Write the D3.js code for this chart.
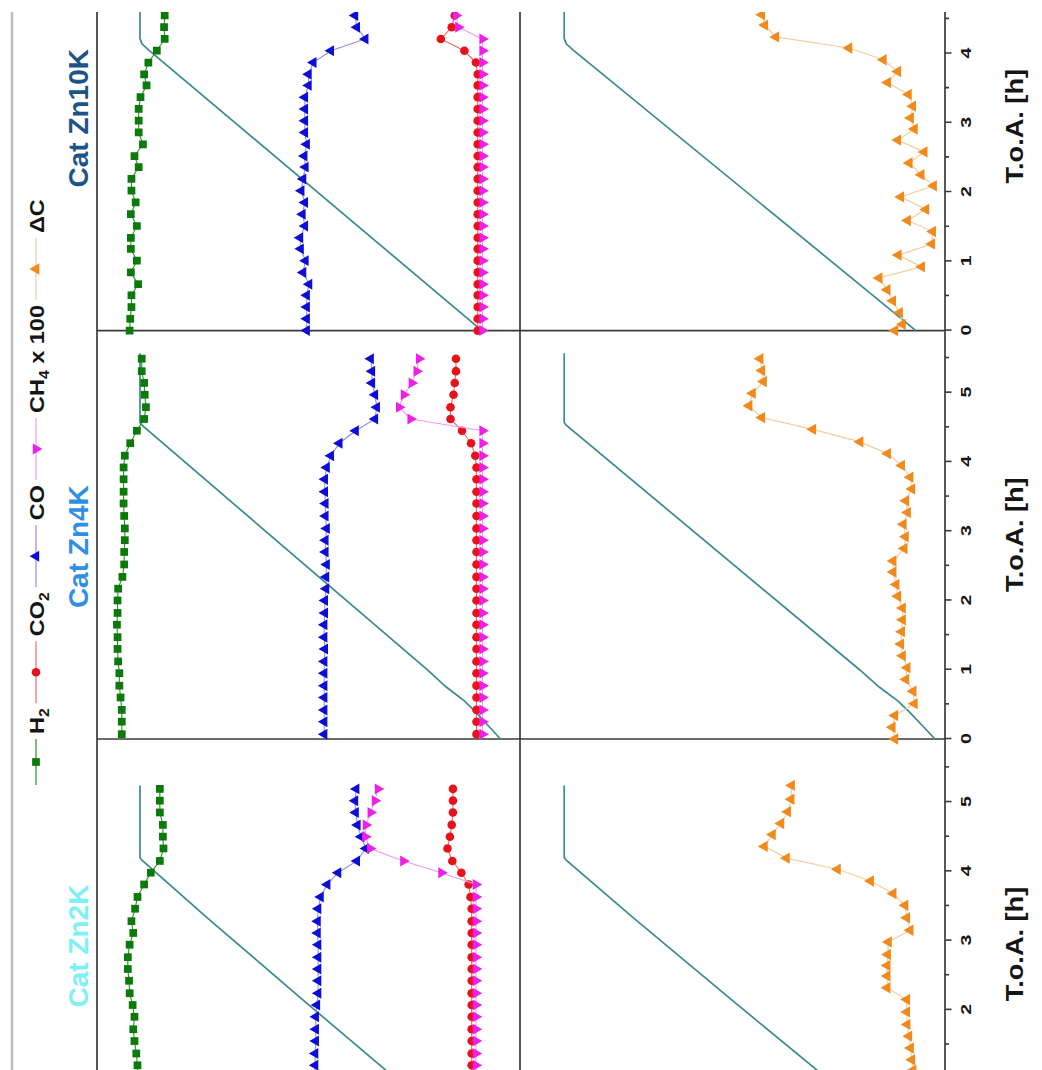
<!DOCTYPE html>
<html>
<head>
<meta charset="utf-8">
<title>Product gas and carbon balance during activation – Cat Zn2K / Zn4K / Zn10K</title>
<script src="https://cdn.jsdelivr.net/npm/d3@7/dist/d3.min.js"></script>
<style>
  html, body { margin: 0; padding: 0; background: #ffffff; }
  svg { display: block; font-family: "Liberation Sans", Arial, Helvetica, sans-serif; }
</style>
</head>
<body>
<svg id="chart" width="1042" height="1070"></svg>
<script>
// ------------------------------------------------------------------
// Data: time on stream T.o.A. [h], gas fractions [vol.%] (CH4 x 100),
// carbon balance deficit ΔC and the oven temperature program [°C].
// ------------------------------------------------------------------
const catalysts = ["Cat Zn2K", "Cat Zn4K", "Cat Zn10K"];
const hourTicks = [0, 1, 2, 3, 4, 5];
const halfHourTicks = [0.5, 1.5, 2.5, 3.5, 4.5, 5.5];

// Cat Zn2K
const timeZn2K = [1.03, 1.20, 1.37, 1.55, 1.72, 1.90, 2.07, 2.24, 2.42, 2.59, 2.76, 2.94, 3.11,
                  3.28, 3.46, 3.63, 3.81, 3.98, 4.15, 4.33, 4.50, 4.67, 4.85, 5.02, 5.19];
const h2Zn2K  = [63.2, 63.3, 63.5, 63.8, 64.0, 63.8, 64.1, 64.6, 64.7, 64.9, 64.9, 64.6, 64.0,
                 64.3, 63.7, 63.3, 62.2, 61.1, 59.6, 59.0, 59.1, 59.1, 59.6, 59.6, 59.6];
const co2Zn2K = [8.0, 8.0, 8.0, 8.0, 8.0, 8.0, 8.0, 8.0, 8.0, 8.0, 8.0, 8.0, 8.0,
                 8.0, 8.0, 8.2, 8.5, 9.7, 11.2, 12.0, 11.6, 11.3, 11.1, 11.1, 11.1];
const coZn2K  = [33.9, 33.9, 33.9, 33.8, 33.8, 33.8, 33.6, 33.4, 33.4, 33.4, 33.4, 33.4, 33.5,
                 33.5, 33.4, 33.0, 31.9, 30.1, 27.0, 25.5, 26.3, 26.9, 27.2, 27.3, 27.1];
const ch4Zn2K = [7.3, 7.3, 7.3, 7.3, 7.3, 7.3, 7.3, 7.3, 7.3, 7.3, 7.3, 7.3, 7.3,
                 7.3, 7.3, 7.3, 7.3, 13.0, 19.3, 24.8, 25.6, 25.5, 24.7, 24.0, 23.5];
const dcTimeZn2K = [0.96, 1.13, 1.28, 1.45, 1.62, 1.79, 1.97, 2.15, 2.32, 2.49, 2.64, 2.80, 2.98,
                    3.15, 3.33, 3.51, 3.68, 3.86, 4.03, 4.19, 4.36, 4.53, 4.69, 4.86, 5.04, 5.24];
const dcZn2K  = [0.75, 0.75, 0.78, 0.81, 0.85, 0.89, 0.90, 0.90, 1.36, 1.36, 1.36, 1.35, 1.33,
                 0.82, 0.90, 0.94, 1.22, 1.75, 2.53, 3.73, 4.25, 4.06, 3.86, 3.70, 3.62, 3.61];
const tempTimeZn2K = [1.0, 2.14, 3.34, 4.16, 4.20, 5.24];
const tempZn2K     = [325, 516, 714, 846, 850, 850];

// Cat Zn4K
const timeZn4K = [0.07, 0.25, 0.42, 0.60, 0.77, 0.95, 1.12, 1.30, 1.47, 1.65, 1.82, 2.00, 2.17,
                  2.34, 2.52, 2.70, 2.87, 3.04, 3.22, 3.40, 3.57, 3.75, 3.92, 4.09, 4.27, 4.45,
                  4.62, 4.79, 4.97, 5.14, 5.31, 5.49];
const h2Zn4K  = [65.9, 65.9, 65.9, 66.1, 66.3, 66.3, 66.5, 66.6, 66.6, 66.7, 66.6, 66.6, 66.5,
                 65.8, 65.5, 65.5, 65.4, 65.4, 65.5, 65.6, 65.6, 65.6, 65.6, 65.4, 64.5, 63.4,
                 62.2, 61.9, 62.1, 62.2, 62.6, 62.6];
const co2Zn4K = [7.2, 7.2, 7.2, 7.2, 7.2, 7.2, 7.2, 7.2, 7.2, 7.2, 7.2, 7.2, 7.2,
                 7.2, 7.2, 7.2, 7.2, 7.2, 7.2, 7.2, 7.2, 7.2, 7.2, 7.4, 8.1, 9.6,
                 11.5, 11.5, 11.0, 10.8, 10.6, 10.6];
const coZn4K  = [32.4, 32.4, 32.4, 32.4, 32.4, 32.4, 32.4, 32.3, 32.4, 32.4, 32.3, 32.3, 32.1,
                 32.1, 32.0, 32.2, 32.2, 32.0, 32.2, 32.2, 32.3, 32.3, 32.0, 31.3, 29.9, 27.2,
                 24.0, 23.7, 24.0, 24.5, 24.5, 24.7];
const ch4Zn4K = [6.2, 6.2, 6.2, 6.2, 6.2, 6.2, 6.2, 6.2, 6.2, 6.2, 6.2, 6.2, 6.2,
                 6.2, 6.2, 6.2, 6.2, 6.2, 6.2, 6.2, 6.2, 6.2, 6.2, 6.2, 6.2, 6.2,
                 18.1, 20.0, 19.2, 17.9, 17.1, 16.7];
const dcTimeZn4K = [0.00, 0.17, 0.34, 0.51, 0.69, 0.86, 1.03, 1.20, 1.37, 1.55, 1.72, 1.89, 2.06,
                    2.23, 2.41, 2.57, 2.75, 2.92, 3.10, 3.27, 3.44, 3.61, 3.78, 3.95, 4.12, 4.29,
                    4.47, 4.64, 4.81, 4.99, 5.16, 5.32, 5.49];
const dcZn4K  = [1.18, 1.24, 1.18, 0.72, 0.75, 0.92, 0.89, 1.00, 1.04, 1.02, 1.00, 1.00, 1.11,
                 1.15, 1.22, 1.22, 0.96, 0.93, 0.98, 0.88, 0.92, 0.78, 0.82, 1.02, 1.35, 2.00,
                 3.11, 4.31, 4.61, 4.53, 4.27, 4.31, 4.35];
const tempTimeZn4K = [0.0, 0.17, 0.40, 0.55, 0.75, 1.00, 4.53, 4.57, 5.57];
const tempZn4K     = [112, 134, 164, 186, 223, 262, 846, 850, 850];

// Cat Zn10K
const timeZn10K = [0.00, 0.17, 0.34, 0.51, 0.67, 0.84, 1.01, 1.18, 1.34, 1.51, 1.68, 1.85, 2.02,
                   2.19, 2.36, 2.52, 2.69, 2.86, 3.03, 3.20, 3.37, 3.54, 3.70, 3.87, 4.04, 4.21,
                   4.38, 4.55];
const h2Zn10K  = [64.6, 64.5, 64.3, 64.3, 63.2, 64.4, 63.4, 64.4, 64.4, 63.4, 64.4, 63.6, 64.3,
                  64.3, 63.1, 63.8, 62.4, 63.1, 63.1, 63.1, 62.8, 61.8, 62.2, 61.5, 60.1, 58.8,
                  58.9, 58.8];
const co2Zn10K = [7.0, 7.0, 7.0, 7.0, 7.0, 7.0, 7.0, 7.0, 7.0, 7.0, 7.0, 7.0, 7.0,
                  7.0, 7.0, 7.0, 7.0, 7.0, 7.0, 7.0, 7.0, 7.0, 7.0, 7.3, 9.2, 13.1,
                  11.3, 10.8];
const coZn10K  = [35.3, 35.3, 35.3, 35.3, 34.9, 35.9, 35.5, 36.3, 36.4, 35.6, 36.0, 35.6, 36.2,
                  35.9, 35.5, 35.7, 35.3, 35.6, 35.6, 35.6, 35.6, 35.0, 35.0, 34.2, 31.3, 25.6,
                  27.0, 27.3];
const ch4Zn10K = [6.2, 6.2, 6.2, 6.2, 6.2, 6.2, 6.2, 6.2, 6.2, 6.2, 6.2, 6.2, 6.2,
                  6.2, 6.2, 6.2, 6.2, 6.2, 6.2, 6.2, 6.2, 6.2, 6.2, 6.2, 6.2, 6.2,
                  10.2, 10.6];
const dcTimeZn10K = [0.00, 0.09, 0.26, 0.43, 0.59, 0.76, 0.92, 1.09, 1.25, 1.43, 1.59, 1.75, 1.93,
                     2.09, 2.25, 2.42, 2.58, 2.75, 2.91, 3.07, 3.24, 3.41, 3.58, 3.74, 3.91, 4.08,
                     4.24, 4.41, 4.56];
const dcZn10K  = [1.18, 1.00, 1.07, 1.23, 1.36, 1.55, 0.55, 1.10, 0.31, 0.29, 0.88, 0.45, 1.04,
                  0.27, 0.56, 0.84, 0.49, 1.11, 0.72, 0.81, 0.76, 0.86, 1.35, 1.11, 1.45, 2.26,
                  3.98, 4.24, 4.31];
const tempTimeZn10K = [0.0, 4.05, 4.14, 4.22, 4.75];
const tempZn10K     = [150, 832, 846, 850, 850];

// ------------------------------------------------------------------
// Panel records assembled from the arrays above
// ------------------------------------------------------------------
const panels = [
  { name: catalysts[0], time: timeZn2K, H2: h2Zn2K, CO2: co2Zn2K, CO: coZn2K, CH4: ch4Zn2K,
    dcTime: dcTimeZn2K, dC: dcZn2K, tempTime: tempTimeZn2K, temp: tempZn2K },
  { name: catalysts[1], time: timeZn4K, H2: h2Zn4K, CO2: co2Zn4K, CO: coZn4K, CH4: ch4Zn4K,
    dcTime: dcTimeZn4K, dC: dcZn4K, tempTime: tempTimeZn4K, temp: tempZn4K },
  { name: catalysts[2], time: timeZn10K, H2: h2Zn10K, CO2: co2Zn10K, CO: coZn10K, CH4: ch4Zn10K,
    dcTime: dcTimeZn10K, dC: dcZn10K, tempTime: tempTimeZn10K, temp: tempZn10K }
];

// ------------------------------------------------------------------
// Layout (figure drawn landscape, then turned a quarter turn)
// ------------------------------------------------------------------
const FIG_W = 1070;               // landscape width  -> page height
const VISIBLE_MAX = 1058;         // landscape x beyond this is trimmed
const rowTop = 97, rowMid = 520, rowBot = 945;
const panelLeft = [-78.4, 331, 739.4];
const panelW = 408.7;
const tDomain = [0, 5.9];

const titleColors = ["#7ef0f6", "#2f8fe6", "#1d5488"];
const titleShift = [2, 12, -8];
const tempColor = "#3a8b8d";
const frameColor = "#3a3a3a";
const textColor = "#151515";

const gasSeries = [
  { key: "H2",  color: "#0b7a0b", line: "#2f8f2f", symbol: d3.symbolSquare,   size: 60, rot: 0 },
  { key: "CO2", color: "#e8121a", line: "#ee6a6a", symbol: d3.symbolCircle,   size: 58, rot: 0 },
  { key: "CO",  color: "#0d0dd6", line: "#8f8fe6", symbol: d3.symbolTriangle, size: 52, rot: 0 },
  { key: "CH4", color: "#ee1fe6", line: "#f09cf0", symbol: d3.symbolTriangle, size: 52, rot: 180 }
];
const dcStyle = { color: "#f08a1d", line: "#f3cf9f", symbol: d3.symbolTriangle, size: 56 };

// value scales (shared by all three catalysts)
const yGas    = d3.scaleLinear().domain([0, 70]).range([rowMid, rowTop]);
const yDC     = d3.scaleLinear().domain([0, 10]).range([rowBot, rowMid]);
const yTempUp = d3.scaleLinear().domain([72, 938]).range([rowMid, rowTop]);
const yTempLo = d3.scaleLinear().domain([92, 938]).range([rowBot, rowMid]);

const svg = d3.select("#chart");
const defs = svg.append("defs");
defs.append("clipPath").attr("id", "page")
  .append("rect").attr("x", -300).attr("y", 0).attr("width", 300 + VISIBLE_MAX).attr("height", 1042);

const fig = svg.append("g").attr("transform", `translate(0,${FIG_W}) rotate(-90)`);
const root = fig.append("g").attr("clip-path", "url(#page)");

// outer rule and panel frame
root.append("line").attr("x1", -300).attr("x2", 1100).attr("y1", 12).attr("y2", 12)
  .attr("stroke", "#bdbdbd").attr("stroke-width", 2.5);
const frame = root.append("g").attr("stroke", frameColor).attr("stroke-width", 1.7);
[rowTop, rowMid, rowBot].forEach(y =>
  frame.append("line").attr("x1", -300).attr("x2", 1100).attr("y1", y).attr("y2", y));
[panelLeft[1], panelLeft[2]].forEach(x =>
  frame.append("line").attr("x1", x).attr("x2", x).attr("y1", rowTop).attr("y2", rowBot));

panels.forEach((p, i) => {
  const x = d3.scaleLinear().domain(tDomain).range([panelLeft[i], panelLeft[i] + panelW]);
  const g = root.append("g").attr("class", "panel");

  // temperature program in both rows
  const tempPts = p.tempTime.map((t, j) => [t, p.temp[j]]);
  [yTempUp, yTempLo].forEach(ys => {
    g.append("path").datum(tempPts)
      .attr("fill", "none").attr("stroke", tempColor).attr("stroke-width", 1.7)
      .attr("d", d3.line().x(d => x(d[0])).y(d => ys(d[1])));
  });

  // gas composition
  gasSeries.forEach(s => {
    const pts = p.time.map((t, j) => [t, p[s.key][j]]);
    g.append("path").datum(pts)
      .attr("fill", "none").attr("stroke", s.line).attr("stroke-width", 1.1)
      .attr("d", d3.line().x(d => x(d[0])).y(d => yGas(d[1])));
    g.append("g").selectAll("path").data(pts).join("path")
      .attr("fill", s.color)
      .attr("d", d3.symbol(s.symbol, s.size))
      .attr("transform", d => `translate(${x(d[0])},${yGas(d[1])})` + (s.rot ? ` rotate(${s.rot})` : ""));
  });

  // carbon balance deficit
  const dcPts = p.dcTime.map((t, j) => [t, p.dC[j]]);
  g.append("path").datum(dcPts)
    .attr("fill", "none").attr("stroke", dcStyle.line).attr("stroke-width", 1.2)
    .attr("d", d3.line().x(d => x(d[0])).y(d => yDC(d[1])));
  g.append("g").selectAll("path").data(dcPts).join("path")
    .attr("fill", dcStyle.color)
    .attr("d", d3.symbol(dcStyle.symbol, dcStyle.size))
    .attr("transform", d => `translate(${x(d[0])},${yDC(d[1])})`);

  // time axis (only the ticks that fall on the page)
  const onPage = t => x(t) >= 0 && x(t) <= VISIBLE_MAX;
  const major = root.append("g").attr("transform", `translate(0,${rowBot})`)
    .call(d3.axisBottom(x).tickValues(hourTicks.filter(onPage))
      .tickSize(6.5).tickPadding(9).tickFormat(d3.format("d")));
  const minor = root.append("g").attr("transform", `translate(0,${rowBot})`)
    .call(d3.axisBottom(x).tickValues(halfHourTicks.filter(onPage)).tickSize(4).tickFormat(""));
  [major, minor].forEach(a => {
    a.select(".domain").remove();
    a.selectAll(".tick line").attr("stroke", frameColor).attr("stroke-width", 1.6);
  });
  major.selectAll(".tick text")
    .attr("fill", textColor).attr("transform", "scale(1.35,1)")
    .style("font-size", "14.5px").style("font-weight", "bold")
    .style("font-family", "'Liberation Sans', Arial, sans-serif");

  root.append("g")
    .attr("transform", `translate(${panelLeft[i] + panelW / 2},1023) scale(1.18,1)`)
    .append("text").attr("text-anchor", "middle")
    .style("font-size", "23px").style("font-weight", "bold").attr("fill", textColor)
    .text("T.o.A. [h]");

  // catalyst title
  root.append("text")
    .attr("x", panelLeft[i] + panelW / 2 - titleShift[i]).attr("y", 88)
    .attr("text-anchor", "middle")
    .style("font-size", "28px").style("font-weight", "bold").attr("fill", titleColors[i])
    .text(p.name);
});

// legend
const legendEntries = [
  { key: "H2",  main: "H",  sub: "2", tail: "" },
  { key: "CO2", main: "CO", sub: "2", tail: "" },
  { key: "CO",  main: "CO", sub: "",  tail: "" },
  { key: "CH4", main: "CH", sub: "4", tail: " x 100" },
  { key: "dC",  main: "ΔC", sub: "",  tail: "" }
];
const legend = root.append("g").attr("class", "legend");
const legendY = 36, legendLine = 62, legendScale = 1.12;
let cursor = 285;
legendEntries.forEach((e, k) => {
  const s = e.key === "dC" ? dcStyle : gasSeries.find(q => q.key === e.key);
  const len = k === 0 ? 46 : legendLine;
  legend.append("line").attr("x1", cursor).attr("x2", cursor + len)
    .attr("y1", legendY).attr("y2", legendY).attr("stroke", s.line).attr("stroke-width", 1.2);
  legend.append("path").attr("fill", s.color)
    .attr("d", d3.symbol(s.symbol, s.size)())
    .attr("transform", `translate(${cursor + len / 2},${legendY})` + (s.rot ? ` rotate(${s.rot})` : ""));
  cursor += len + 5;
  const holder = legend.append("g")
    .attr("transform", `translate(${cursor},${legendY + 7.5}) scale(${legendScale},1)`);
  const txt = holder.append("text")
    .style("font-size", "21px").style("font-weight", "bold").attr("fill", textColor);
  txt.append("tspan").text(e.main);
  if (e.sub) txt.append("tspan").attr("dy", 5).style("font-size", "14px").text(e.sub);
  if (e.tail) txt.append("tspan").attr("dy", -5).text(e.tail);
  cursor += txt.node().getComputedTextLength() * legendScale + 5;
});
</script>
</body>
</html>
